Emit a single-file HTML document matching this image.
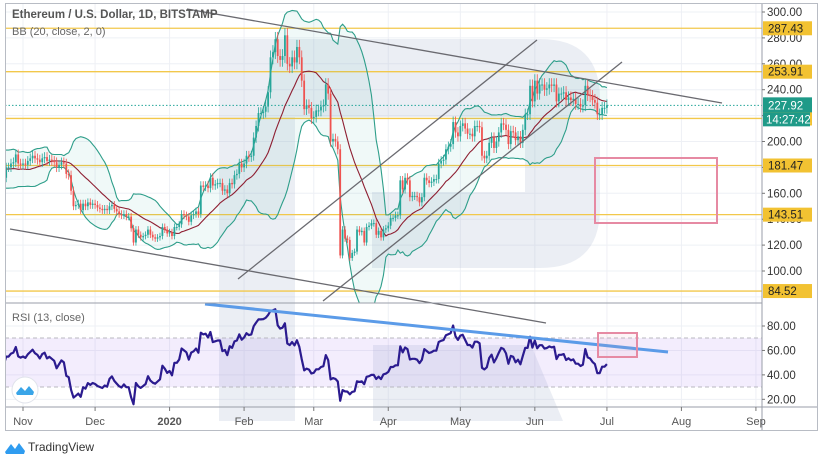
<!DOCTYPE html>
<html><head><meta charset="utf-8"><style>
html,body{margin:0;padding:0;background:#fff;width:820px;height:461px;overflow:hidden}
svg{display:block;font-family:"Liberation Sans",sans-serif}
</style></head><body>
<svg id="chart" width="820" height="461" viewBox="0 0 820 461" xmlns="http://www.w3.org/2000/svg">
<defs>
<clipPath id="cm"><rect x="5" y="3" width="757" height="300"/></clipPath>
<clipPath id="cr"><rect x="5" y="303" width="757" height="104"/></clipPath>
</defs>
<g id="grid"></g>
<g fill="rgba(170,185,210,0.24)">
<rect x="219" y="39" width="76" height="382"/>
<path d="M295,39 H540 Q600,39 600,99 V208 Q600,268 540,268 H372 V192 H525 V117 H295 Z"/>
<polygon points="373,345 531,345 563,421 373,421"/>
</g>
<rect x="5" y="338" width="757" height="49" fill="rgba(160,110,240,0.12)"/>
<line x1="5" y1="338" x2="762" y2="338" stroke="#b8b8c0" stroke-dasharray="4,3"/>
<line x1="5" y1="387" x2="762" y2="387" stroke="#b8b8c0" stroke-dasharray="4,3"/>
<g id="levels"></g>
<g id="bb" clip-path="url(#cm)"></g>
<g id="candles" clip-path="url(#cm)"></g>
<g id="rsi" clip-path="url(#cr)"></g>
<g stroke="#6a6a70" stroke-width="1.3">
<line x1="187" y1="9" x2="722" y2="103"/>
<line x1="10" y1="229" x2="546" y2="323"/>
<line x1="238" y1="279" x2="537" y2="40"/>
<line x1="323" y1="301" x2="622" y2="62"/>
</g>
<line x1="205" y1="304" x2="668" y2="352" stroke="#5b9be8" stroke-width="3"/>
<rect x="595" y="158" width="122" height="65" fill="none" stroke="#e68aa3" stroke-width="2"/>
<rect x="598" y="333" width="39" height="24" fill="rgba(240,160,180,0.1)" stroke="#e68aa3" stroke-width="2"/>
<line x1="5" y1="303" x2="762" y2="303" stroke="#9a9ea8" stroke-width="1"/>
<line x1="5" y1="407" x2="818" y2="407" stroke="#9a9ea8" stroke-width="1"/>
<line x1="762" y1="3" x2="762" y2="431" stroke="#9a9ea8" stroke-width="1"/>
<rect x="5.5" y="3.5" width="812" height="427" fill="none" stroke="#b8bcc4"/>
<g id="axis" font-size="11.5" fill="#333"></g>
<g id="taxis" font-size="11" fill="#555"></g>
<text x="12" y="18" font-size="11.5" font-weight="bold" fill="#555">Ethereum / U.S. Dollar, 1D, BITSTAMP</text>
<text x="12" y="35" font-size="11" fill="#666">BB (20, close, 2, 0)</text>
<text x="12" y="321" font-size="11" fill="#666">RSI (13, close)</text>
<g>
<circle cx="25" cy="390" r="13" fill="#fff" stroke="#e0e3eb"/>
<path d="M16,393 L21,387 L25,391 L29,386 L34,392 L33,395 L17,395 Z" fill="#3aa5e8"/>
</g>
<g>
<path d="M5,452 L11,444 L15,449 L19,443 L25,451 L24,454 L6,454 Z" fill="#2f9cf0"/>
<text x="28" y="451" font-size="12" fill="#333">TradingView</text>
</g>
</svg>
<script>
// ---- data ----
const warmupCloses=[176,179,180,178,180,193,192,180,180,186,187,185,177,176,173,172,174,175,172,161];
const closes=[
172,180,180,183,184,190,183,182,
183,182,185,187,189,187,186,184,187,188,185,186,185,184,180,182,184,183,175,174,162,150,151,152,147,152,150,153,151,152,
151,149,148,147,148,147,150,151,148,146,144,143,144,142,142,133,122,132,128,126,127,128,132,128,126,125,126,127,134,132,129,
130,127,134,134,136,144,143,142,138,143,144,146,144,166,165,166,164,172,166,167,168,168,162,163,160,168,167,174,175,183,180,
183,189,188,189,203,212,222,222,223,227,238,265,269,279,266,263,266,282,260,258,265,261,273,265,247,225,228,226,218,
219,224,224,227,228,244,237,200,202,200,194,112,132,125,124,110,114,115,132,130,131,122,134,135,137,137,128,131,126,132,133,
135,141,141,143,143,170,163,172,170,157,158,158,157,153,157,172,170,168,169,171,171,183,185,186,194,196,198,215,207,204,
212,214,210,206,206,204,212,212,211,189,187,189,199,203,195,200,207,214,213,209,198,208,207,201,204,199,209,221,221,243,231,
247,237,244,244,240,241,244,243,244,231,237,237,238,232,234,232,233,229,229,227,228,243,236,235,232,230,221,221,226,226,
228];
const levelValues=[287.43,253.91,217.79,181.47,143.51,84.52];
const priceTicks=[300,280,260,240,220,200,180,160,140,120,100,80];
const rsiTicks=[80,60,40,20];
const monthLabels=["Nov","Dec","2020","Feb","Mar","Apr","May","Jun","Jul","Aug","Sep"];
const monthDays=[0,30,61,92,121,152,182,213,243,274,305];
const lastPrice=227.92;
const countdown="14:27:42";
const firstDayOffset=-8;
// ---- scales ----
const NS="http://www.w3.org/2000/svg";
const X=d=>23+2.403*d;
const Y=p=>12+(300-p)*1.295;
const RY=r=>326+(80-r)*1.222;
function mk(tag,attrs,parent){const e=document.createElementNS(NS,tag);for(const k in attrs)e.setAttribute(k,attrs[k]);parent.appendChild(e);return e;}
const grid=document.getElementById('grid');
priceTicks.forEach(p=>{const l=mk('line',{x1:5,x2:762,y1:Y(p),y2:Y(p),stroke:'#eef0f5'},grid);

});
rsiTicks.forEach(r=>{const l=mk('line',{x1:5,x2:762,y1:RY(r),y2:RY(r),stroke:'#eef0f5'},grid);

});
monthDays.forEach(d=>{const l=mk('line',{x1:X(d),x2:X(d),y1:3,y2:407,stroke:'#eef0f5'},grid);

});
// levels
const lv=document.getElementById('levels');
levelValues.forEach(v=>{const l=mk('line',{x1:5,x2:762,y1:Y(v),y2:Y(v),stroke:'#f2c84b','stroke-width':1.3},lv);

});
const lp=mk('line',{x1:5,x2:762,y1:Y(lastPrice),y2:Y(lastPrice),stroke:'#26a69a','stroke-dasharray':'1.5,2'},lv);


// all closes
const all=warmupCloses.concat(closes);
const W=warmupCloses.length;
const dayOf=i=>i-W+firstDayOffset;
// bollinger
const up=[],mid=[],lo=[];
for(let i=19;i<all.length;i++){let s=0;for(let j=i-19;j<=i;j++)s+=all[j];const m=s/20;let v=0;for(let j=i-19;j<=i;j++)v+=(all[j]-m)**2;const sd=Math.sqrt(v/20);
up.push([X(dayOf(i)),Y(m+2*sd)]);mid.push([X(dayOf(i)),Y(m)]);lo.push([X(dayOf(i)),Y(m-2*sd)]);}
const bb=document.getElementById('bb');
const pts=a=>a.map(p=>p[0].toFixed(1)+','+p[1].toFixed(1)).join(' ');
const fill=mk('polygon',{points:pts(up)+' '+pts(lo.slice().reverse()),fill:'rgba(38,166,154,0.07)'},bb);


const bu=mk('polyline',{points:pts(up),fill:'none',stroke:'#2e9e8a','stroke-width':1.1},bb);


const bl=mk('polyline',{points:pts(lo),fill:'none',stroke:'#2e9e8a','stroke-width':1.1},bb);


const bm=mk('polyline',{points:pts(mid),fill:'none',stroke:'#8e1f32','stroke-width':1.1},bb);


// candles
const cg=document.getElementById('candles');
for(let i=W;i<all.length;i++){
 const o=all[i-1],c=all[i],x=X(dayOf(i));
 const col=c>=o?'#26a69a':'#ef5350';
 const hi=Math.max(o,c)*1.02,lw=Math.min(o,c)*0.98;
 const w=mk('line',{x1:x,x2:x,y1:Y(hi),y2:Y(lw),stroke:col,'stroke-width':0.8},cg);
 
 
 const top=Y(Math.max(o,c)),h=Math.max(1,Y(Math.min(o,c))-top);
 const b=mk('rect',{x:x-0.9,y:top,width:1.8,height:h,fill:col},cg);
 
 
}
// rsi
let ag=0,al=0;const N=13;const rp=[];
for(let i=1;i<all.length;i++){const ch=all[i]-all[i-1];const g=Math.max(ch,0),l=Math.max(-ch,0);
 if(i<=N){ag+=g/N;al+=l/N;}else{ag=(ag*(N-1)+g)/N;al=(al*(N-1)+l)/N;}
 if(i>=N){const r=al===0?100:100-100/(1+ag/al);rp.push([X(dayOf(i)),RY(r)]);}}
const rl=mk('polyline',{points:pts(rp),fill:'none',stroke:'#2b1b8f','stroke-width':2.2,'stroke-linejoin':'round'},document.getElementById('rsi'));


// axes
const ax=document.getElementById('axis');
priceTicks.forEach(p=>{if(p===80)return;const t=mk('text',{x:767,y:Y(p)+4},ax);t.textContent=p.toFixed(2);


mk('line',{x1:762,x2:765,y1:Y(p),y2:Y(p),stroke:'#777'},ax);});
rsiTicks.forEach(r=>{const t=mk('text',{x:767,y:RY(r)+4},ax);t.textContent=r.toFixed(2);


mk('line',{x1:762,x2:765,y1:RY(r),y2:RY(r),stroke:'#777'},ax);});
levelValues.forEach(v=>{const g=mk('g',{},ax);


mk('rect',{x:763,y:Y(v)-7,width:49,height:14,fill:'#f2c232'},g);
const t=mk('text',{x:768,y:Y(v)+4,fill:'#222'},g);t.textContent=v.toFixed(2);});
const g1=mk('g',{},ax);


mk('rect',{x:763,y:Y(lastPrice)-8,width:49,height:15,fill:'#1f9a88'},g1);
const t1=mk('text',{x:768,y:Y(lastPrice)+4,fill:'#fff'},g1);t1.textContent=lastPrice.toFixed(2);
const g2=mk('g',{},ax);


mk('rect',{x:763,y:Y(lastPrice)+7,width:47,height:14,fill:'#1f9a88'},g2);
const t2=mk('text',{x:766,y:Y(lastPrice)+18,fill:'#fff'},g2);t2.textContent=countdown;
const ta=document.getElementById('taxis');
monthLabels.forEach((m,k)=>{const x=X(monthDays[k]);
mk('line',{x1:x,x2:x,y1:407,y2:411,stroke:'#777'},ta);
const t=mk('text',{x:x,y:425,'text-anchor':'middle','font-weight':m==='2020'?'bold':'normal'},ta);t.textContent=m;

});
</script>
</body></html>
